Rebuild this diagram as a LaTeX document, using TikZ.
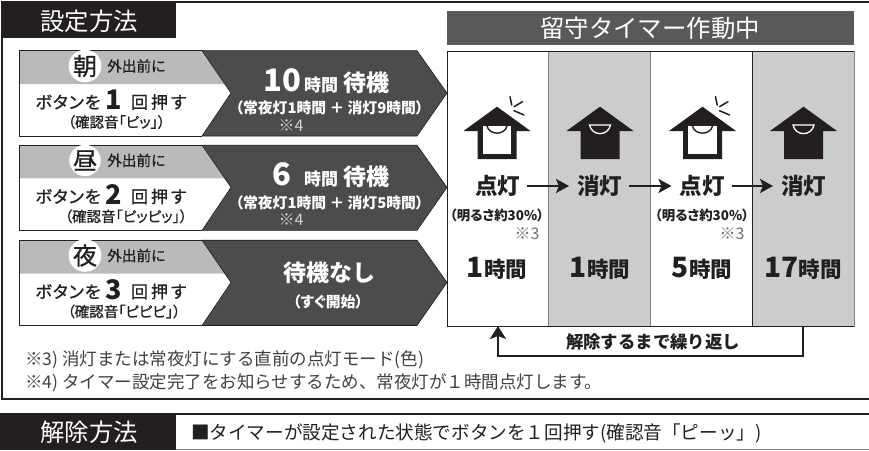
\documentclass[tikz,border=0pt]{standalone}
\usepackage{fontspec}
\setmainfont{Noto Sans CJK JP}[RawFeature=+palt]
\newfontfamily\jpnp{Noto Sans CJK JP}
\newfontfamily\jpmd{Noto Sans CJK JP}[RawFeature=+palt,FakeBold=0.9]
\newfontfamily\jpmdnp{Noto Sans CJK JP}[FakeBold=0.9]
\usetikzlibrary{arrows.meta}
\definecolor{ink}{HTML}{231F20}
\definecolor{darkband}{HTML}{4C4C4E}
\definecolor{headgray}{HTML}{58595B}
\definecolor{lightband}{HTML}{B9BABC}
\definecolor{cellgray}{HTML}{CBCCCD}
\definecolor{linegray}{HTML}{808285}
\definecolor{textgray}{HTML}{414042}
\definecolor{refdark}{HTML}{D1D3D4}
\definecolor{reflight}{HTML}{6D6E71}
\newcommand{\fz}[1]{\fontsize{#1}{#1}\selectfont}
\tikzset{
  lbl/.style={inner sep=0pt,outer sep=0pt,text=ink,align=center},
  head/.style={lbl,text=white,font=\jpnp\fz{24.4}},
  circ/.style={circle,fill=white,minimum size=30pt,inner sep=0pt,text=ink,font=\jpmd\fz{24}},
  morning/.style={lbl,font=\jpmdnp\fz{14.6}},
  press/.style={lbl,font=\jpmd\fz{17}},
  big/.style={lbl,font=\bfseries\fz{27}},
  tone/.style={lbl,font=\jpmd\fz{14.5}},
  waitlbl/.style={lbl,text=white,anchor=east,font=\jpnp\bfseries\fz{23}},
  sub/.style={lbl,text=white,font=\bfseries\fz{14.8}},
  ref/.style={lbl,text=refdark,font=\jpnp\fz{16}},
  reflt/.style={lbl,text=reflight,font=\jpnp\fz{16}},
  state/.style={lbl,font=\bfseries\fz{22.5}},
  bright/.style={lbl,font=\bfseries\fz{13.4}},
  hours/.style={lbl,font=\bfseries\fz{21.5}},
  note/.style={lbl,anchor=west,text=textgray,font=\jpnp\fz{17.5}},
  cell/.style={inner sep=0pt,outer sep=0pt,minimum width=102pt,minimum height=275pt,draw=linegray,line width=1pt},
  flow/.style={draw=ink,line width=2.8pt,-{Stealth[length=13pt,width=14pt,inset=3pt]},shorten <=7pt,shorten >=8pt},
  back/.style={draw=ink,line width=2.8pt,-{Stealth[length=13pt,width=16pt,inset=3pt]}},
}
% band: gray head, white body, dark arrow (offset by scope)
\newcommand{\band}{%
  \fill[white] (19.5,50.7) -- (202,50.7) -- (231,93) -- (202,136) -- (19.5,136) -- cycle;
  \fill[lightband] (19.5,50.7) -- (202,50.7) -- (225,84) -- (19.5,84) -- cycle;
  \draw[ink,line width=1pt] (202,136) -- (19.5,136) -- (19.5,50.7) -- (202,50.7);
  \fill[darkband,draw=ink,line width=.6pt] (202,50.7) -- (417,50.7) -- (447,93) -- (417,136) -- (202,136) -- (231,93) -- cycle;
}
\newcommand{\rays}{%
  \draw[ink,line width=1.5pt,line cap=round]
    (13,96.7) -- (14.7,105) (25.5,101.7) -- (17,106.7) (27,115) -- (17,110.7);
}
\newcommand{\litroof}{%
  \fill[ink] (0,106.7) -- (33.5,131) -- (19.5,131) -- (19.5,159) -- (-19.5,159) -- (-19.5,131) -- (-33.5,131) -- cycle;
  \fill[white] (-14.2,126) rectangle (14.2,154.3);
  \fill[ink] (-14.2,124) rectangle (14.2,126);
  \draw[ink,line width=1.4pt] (-10,126) .. controls (-8,135.5) and (8,135.5) .. (10,126);
}
\newcommand{\darkroof}{%
  \fill[ink] (0,106.7) -- (33.5,131) -- (19.5,131) -- (19.5,159) -- (-19.5,159) -- (-19.5,131) -- (-33.5,131) -- cycle;
  \draw[white,line width=1.3pt] (-10.5,125) -- (10.5,125) .. controls (8,136.5) and (-8,136.5) .. (-10.5,125) -- cycle;
}
\begin{document}
\begin{tikzpicture}[x=1pt,y=-1pt]
\useasboundingbox (0,0) rectangle (869,450);
\fill[white] (0,0) rectangle (869,450);
% upper frame
\draw[ink,line width=2pt] (869,2) -- (2,2) -- (2,399) -- (869,399);
\fill[ink] (2,2) rectangle (176,38);
\node[head] (settitle) at (89,21) {設定方法};
% lower frame
\draw[ink,line width=2pt] (0,414) -- (869,414);
\draw[linegray,line width=1pt] (176,449) -- (869,449);
\fill[ink] (0,414) rectangle (176,450);
\node[head] (cleartitle) at (89,432) {解除方法};
\node[note,text=ink,font=\jpnp\fz{18.6}] (cleartext) at (191,433) {■タイマーが設定された状態でボタンを１回押す(確認音「ピーッ」)};
% timer header
\fill[headgray] (446.7,11) rectangle (854,45);
\node[head] (timertitle) at (650,28) {留守タイマー作動中};
% table
\node[cell,fill=white] (cell1) at (498,188.5) {};
\node[cell,fill=cellgray] (cell2) at (599.5,188.5) {};
\node[cell,fill=white] (cell3) at (701,188.5) {};
\node[cell,fill=cellgray] (cell4) at (803,188.5) {};
\draw[ink,line width=1pt] (447,51) -- (854,51) (447,326) -- (854,326) (447,51) -- (447,326) (752,51) -- (752,326);
% morning
\begin{scope}
\band
\node[circ] (c1) at (85,66) {朝};
\node[morning] (m1) at (136.5,66) {外出前に};
\node[press,anchor=east] (p1a) at (100.5,102) {ボ\kern1pt タ\kern1pt ン\kern1pt を};
\node[big] (p1b) at (114,100) {1};
\node[press,anchor=west] (p1c) at (131,102) {回\kern3pt 押\kern3pt す};
\node[tone] (t1) at (116.5,122) {（確認音「ピッ」）};
\node[waitlbl] (w1) at (389,81) {{\fz{31}10}\kern3pt{\fz{17}時間}\kern5pt待機};
\node[sub] (s1) at (329.5,108) {（常夜灯1時間 ＋ 消灯9時間）};
\node[ref] (r1) at (291,125.5) {※4};
\end{scope}
% noon
\begin{scope}[shift={(0,94.4)}]
\band
\node[circ] (c2) at (85,66) {昼};
\node[morning] (m2) at (136.5,66) {外出前に};
\node[press,anchor=east] (p2a) at (100.5,102) {ボ\kern1pt タ\kern1pt ン\kern1pt を};
\node[big] (p2b) at (114,100) {2};
\node[press,anchor=west] (p2c) at (131,102) {回\kern3pt 押\kern3pt す};
\node[tone] (t2) at (126,122) {（確認音「ピッピッ」）};
\node[waitlbl] (w2) at (389,81) {{\fz{31}6}\kern13pt{\fz{17}時間}\kern5pt待機};
\node[sub] (s2) at (329.5,108) {（常夜灯1時間 ＋ 消灯5時間）};
\node[ref] (r2) at (291,125.5) {※4};
\end{scope}
% night
\begin{scope}[shift={(0,189.5)}]
\band
\node[circ] (c3) at (85,66) {夜};
\node[morning] (m3) at (136.5,66) {外出前に};
\node[press,anchor=east] (p3a) at (100.5,102) {ボ\kern1pt タ\kern1pt ン\kern1pt を};
\node[big] (p3b) at (114,100) {3};
\node[press,anchor=west] (p3c) at (131,102) {回\kern3pt 押\kern3pt す};
\node[tone] (t3) at (124,122) {（確認音「ピピピ」）};
\node[waitlbl,anchor=center] (w3) at (329,83) {待機なし};
\node[sub] (s3) at (328,112.5) {（すぐ開始）};
\end{scope}
% houses
\begin{scope}[shift={(497,0)}]\litroof\rays\end{scope}
\begin{scope}[shift={(600,0)}]\darkroof\end{scope}
\begin{scope}[shift={(702.5,0)}]\litroof\rays\end{scope}
\begin{scope}[shift={(803.5,0)}]\darkroof\end{scope}
% states
\node[state] (st1) at (497.5,186) {点灯};
\node[state] (st2) at (599.5,186) {消灯};
\node[state] (st3) at (702,186) {点灯};
\node[state] (st4) at (803.5,186) {消灯};
\draw[flow] (st1.east) -- (st2.west);
\draw[flow] (st2.east) -- (st3.west);
\draw[flow] (st3.east) -- (st4.west);
\node[bright] (b1) at (497,215) {（明るさ約30\%）};
\node[bright] (b3) at (702,215) {（明るさ約30\%）};
\node[reflt] (r3) at (527,233.5) {※3};
\node[reflt] (r4) at (732,233.5) {※3};
\node[hours] (h1) at (497,268) {{\fz{28}1}時間};
\node[hours] (h2) at (600,268) {{\fz{28}1}時間};
\node[hours] (h3) at (702,268) {{\fz{28}5}時間};
\node[hours] (h4) at (803,268) {{\fz{28}17}時間};
% loop
\draw[back] (cell4.south) -- ++(0,30) -| (cell1.south);
\node[lbl,font=\jpnp\bfseries\fz{17.4}] (looptext) at (653,342) {解除するまで繰り返し};
% notes
\node[note] (n3) at (25,360) {※3) 消灯または常夜灯にする直前の点灯モード(色)};
\node[note] (n4) at (25,383) {※4) タイマー設定完了をお知らせするため、常夜灯が１時間点灯します。};
\end{tikzpicture}
\end{document}
